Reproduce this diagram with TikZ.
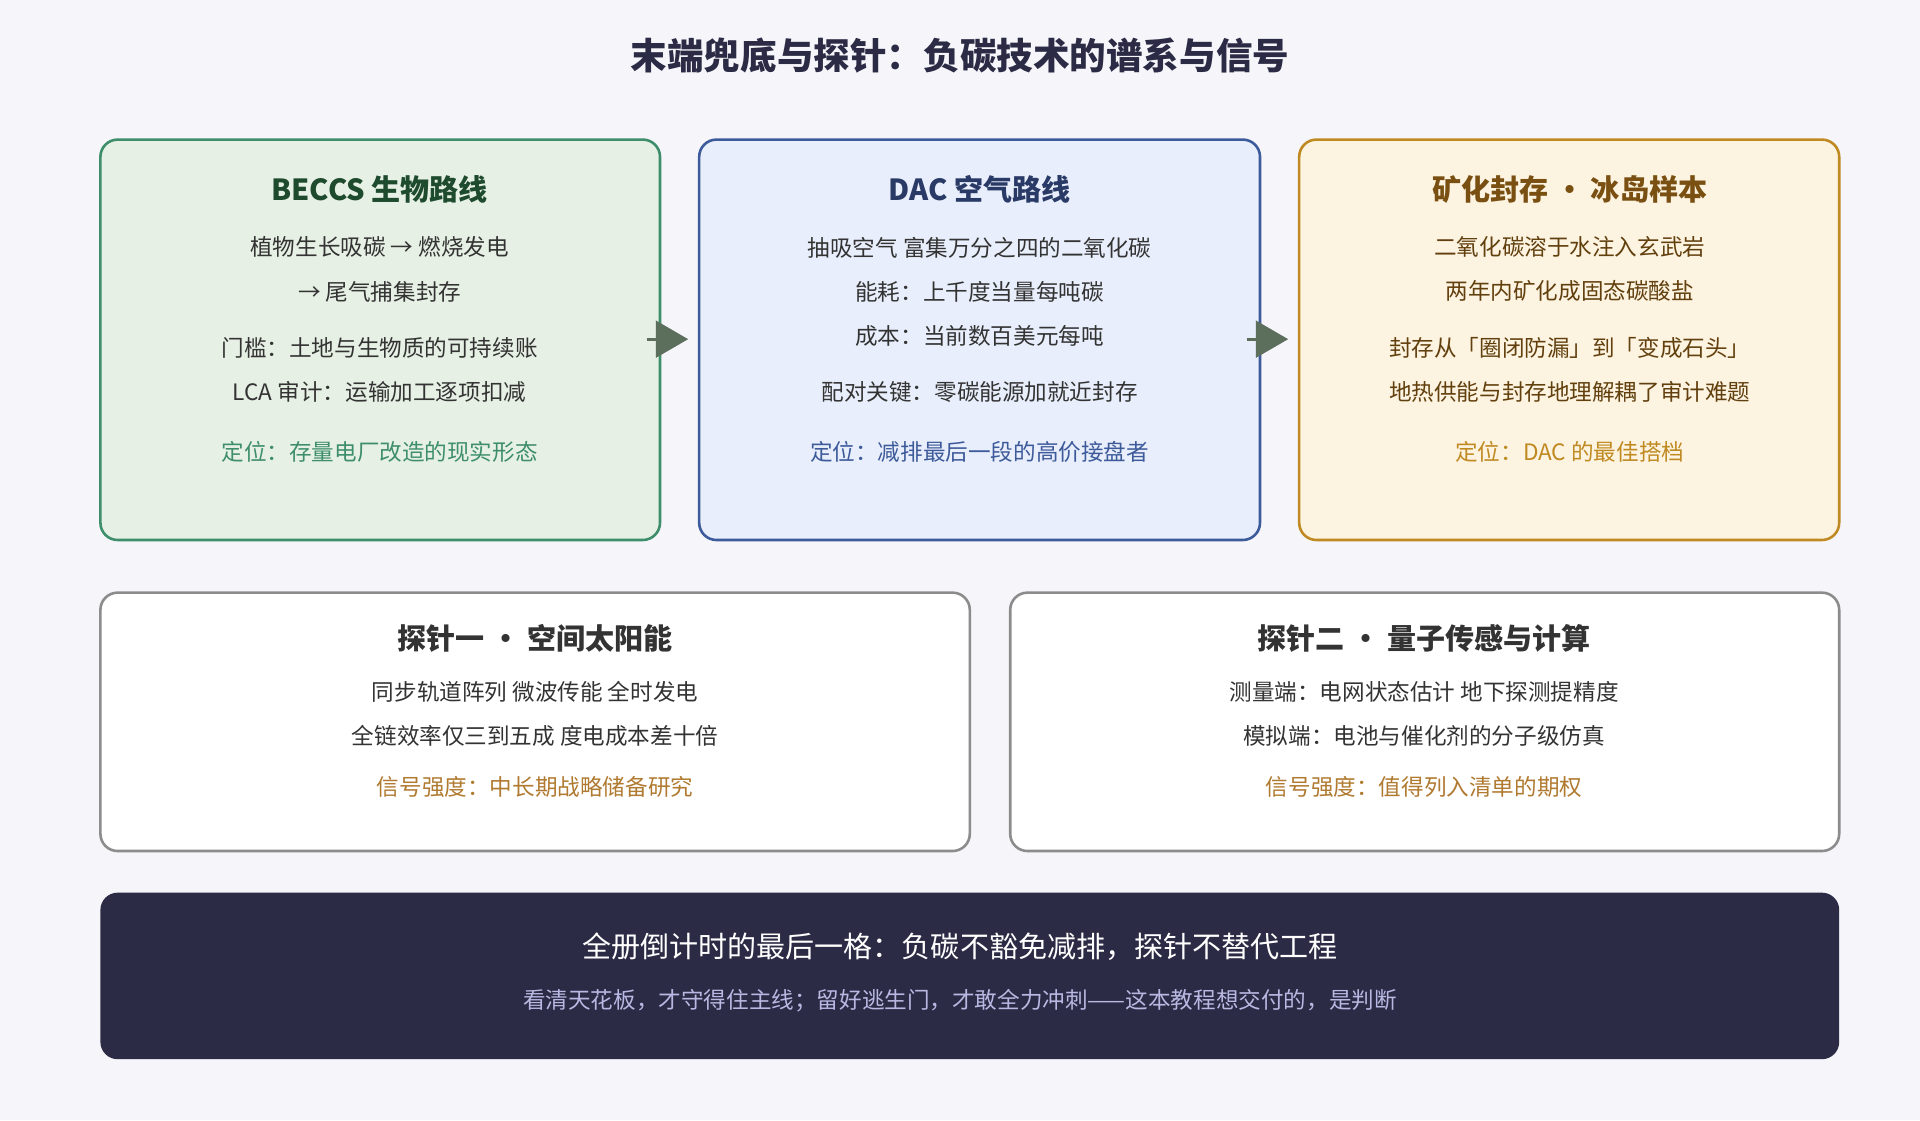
\documentclass[tikz,border=0pt]{standalone}
\usepackage{fontspec}
\setmainfont{Noto Sans CJK SC}
\usetikzlibrary{arrows.meta}
\definecolor{bgc}{HTML}{F5F5FA}
\definecolor{grnf}{HTML}{E6F0E4}\definecolor{grnd}{HTML}{3E8E6C}\definecolor{grnt}{HTML}{1E4A2E}
\definecolor{bluf}{HTML}{E8EEFB}\definecolor{blud}{HTML}{3D5A9A}\definecolor{blut}{HTML}{2A3A66}
\definecolor{ambf}{HTML}{FDF3E1}\definecolor{ambd}{HTML}{C08A22}\definecolor{ambt}{HTML}{7A5012}
\definecolor{txt}{HTML}{333333}\definecolor{sig}{HTML}{B07A30}\definecolor{arr}{HTML}{5C6E5C}
\definecolor{navy}{HTML}{2B2B45}\definecolor{lav}{HTML}{B8B8E2}
\begin{document}
\begin{tikzpicture}[x=0.02cm,y=-0.02cm]
	\tikzstyle{every node}=[font=\fontsize{10.5}{12}\selectfont,text=txt]
	\tikzstyle{card}=[rounded corners=8pt,line width=1.2pt]
	\tikzstyle{head}=[font=\fontsize{13.5}{15}\selectfont\bfseries]
	\tikzstyle{flow}=[draw=arr,line width=1.5pt,-{Triangle[length=15pt,width=17pt]}]
	\fill[bgc] (0,0) rectangle (1568,915);
	
	\node[font=\fontsize{17}{19}\selectfont\bfseries,text=navy] (title) at (784,45) {末端兜底与探针：负碳技术的谱系与信号};
	
	% three routes
	\draw[card,fill=grnf,draw=grnd] (82,114) rectangle (539,441);
	\node[head,text=grnt] at (310,155) {BECCS 生物路线};
	\node at (310,202) {植物生长吸碳 → 燃烧发电};
	\node at (310,238) {→ 尾气捕集封存};
	\node at (310,284) {门槛：土地与生物质的可持续账};
	\node at (310,320) {LCA 审计：运输加工逐项扣减};
	\node[text=grnd] at (310,369) {定位：存量电厂改造的现实形态};
	
	\draw[card,fill=bluf,draw=blud] (571,114) rectangle (1029,441);
	\coordinate (dacw) at (562,277);
	\node[head,text=blut] at (800,155) {DAC 空气路线};
	\node at (800,202) {抽吸空气 富集万分之四的二氧化碳};
	\node at (800,238) {能耗：上千度当量每吨碳};
	\node at (800,274) {成本：当前数百美元每吨};
	\node at (800,320) {配对关键：零碳能源加就近封存};
	\node[text=blud] at (800,369) {定位：减排最后一段的高价接盘者};
	
	\draw[card,fill=ambf,draw=ambd] (1061,114) rectangle (1502,441);
	\coordinate (minw) at (1052,277);
	\node[head,text=ambt] at (1282,155) {矿化封存 • 冰岛样本};
	\node[text=ambt!80!black] at (1282,202) {二氧化碳溶于水注入玄武岩};
	\node[text=ambt!80!black] at (1282,238) {两年内矿化成固态碳酸盐};
	\node[text=ambt!80!black] at (1282,284) {封存从「圈闭防漏」到「变成石头」};
	\node[text=ambt!80!black] at (1282,320) {地热供能与封存地理解耦了审计难题};
	\node[text=ambd] at (1282,369) {定位：DAC 的最佳搭档};
	
	\draw[flow] (528,277) -- (dacw);
	\draw[flow] (1018,277) -- (minw);
	
	% probes
	\draw[card,fill=white,draw=black!45] (82,484) rectangle (792,695);
	\node[head] at (437,521) {探针一 • 空间太阳能};
	\node at (437,565) {同步轨道阵列 微波传能 全时发电};
	\node at (437,601) {全链效率仅三到五成 度电成本差十倍};
	\node[text=sig] at (437,643) {信号强度：中长期战略储备研究};
	
	\draw[card,fill=white,draw=black!45] (825,484) rectangle (1502,695);
	\node[head] at (1163,521) {探针二 • 量子传感与计算};
	\node at (1163,565) {测量端：电网状态估计 地下探测提精度};
	\node at (1163,601) {模拟端：电池与催化剂的分子级仿真};
	\node[text=sig] at (1163,643) {信号强度：值得列入清单的期权};
	
	% closing
	\fill[navy,rounded corners=8pt] (82,729) rectangle (1502,865);
	\node[font=\fontsize{13.5}{15}\selectfont,text=white] at (784,773) {全册倒计时的最后一格：负碳不豁免减排，探针不替代工程};
	\node[text=lav] at (784,817) {看清天花板，才守得住主线；留好逃生门，才敢全力冲刺——这本教程想交付的，是判断};
\end{tikzpicture}
\end{document}
